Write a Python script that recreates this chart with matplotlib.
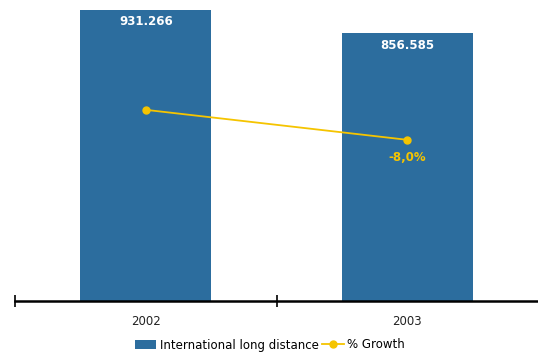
import matplotlib.pyplot as plt
import numpy as np

years = ['2002', '2003']
traffic = [931.266, 856.585]
growth = [0.0, -8.0]
traffic_labels = ['931.266', '856.585']
growth_labels = ['', '-8,0%']

bar_color = '#2c6d9e'
line_color = '#f5c400'

fig = plt.figure(figsize=(5.38, 3.53), dpi=100)
ax = fig.add_axes([15 / 538, 52 / 353, 523 / 538, 301 / 353])
x = np.arange(len(years))

bars = ax.bar(x, traffic, width=0.5, color=bar_color, label='International long distance')
for i, v in enumerate(traffic):
    ax.text(x[i], v - 38, traffic_labels[i], ha='center', va='center', color='white',
            fontsize=8.5, fontweight='bold')
ax.set_xlim(-0.5, 1.5)
ax.set_ylim(0, 963)
ax.set_yticks([])
for s in ['top', 'right', 'left']:
    ax.spines[s].set_visible(False)
ax.spines['bottom'].set_linewidth(1.8)
ax.set_xticks([-0.5, 0.5])
ax.set_xticklabels([])
ax.tick_params(axis='x', which='major', direction='inout', length=8, width=1.2)
ax.set_xticks(x, minor=True)
ax.set_xticklabels(years, minor=True, fontsize=8.5, color='#222222')
ax.tick_params(axis='x', which='minor', length=0, pad=10)

ax2 = ax.twinx()
ln, = ax2.plot(x, growth, color=line_color, marker='o', markersize=5, linewidth=1.3,
               label='% Growth')
for i, v in enumerate(growth):
    if growth_labels[i]:
        ax2.text(x[i], v - 4.8, growth_labels[i], ha='center', va='center', color=line_color,
                 fontsize=8.5, fontweight='bold')
ax2.set_ylim(-51, 29.3)
ax2.set_yticks([])
for s in ['top', 'right', 'left', 'bottom']:
    ax2.spines[s].set_visible(False)

fig.legend([bars, ln], ['International long distance', '% Growth'], loc='center',
           bbox_to_anchor=(270 / 538, 8 / 353), ncol=2, frameon=False, fontsize=8.5,
           handlelength=1.8, handletextpad=0.3, columnspacing=0.3)

fig.savefig('out.png', dpi=100)
